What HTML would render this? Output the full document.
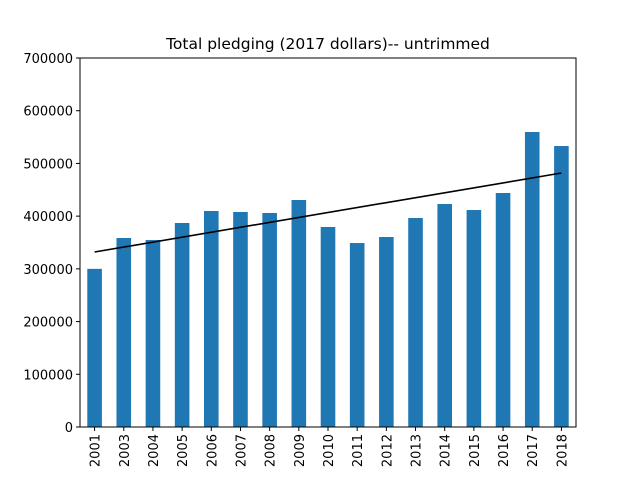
<!DOCTYPE html>
<html><head><meta charset="utf-8"><style>
html,body{margin:0;padding:0;background:#fff;width:640px;height:480px;overflow:hidden;}
svg{display:block;}
svg text{font-family:"DejaVu Sans","Liberation Sans",sans-serif;fill:#000;}
</style></head><body>
<svg id="chart" width="640" height="480" xmlns="http://www.w3.org/2000/svg">
<text x="328" y="49" font-size="15.5" text-anchor="middle">Total pledging (2017 dollars)-- untrimmed</text>
<g id="plot"></g>
</svg>
<script>
const categories=["2001","2003","2004","2005","2006","2007","2008","2009","2010","2011","2012","2013","2014","2015","2016","2017","2018"];
const values=[300000,358500,354700,387000,409800,407900,406000,430600,379400,349000,360400,396500,423000,411600,443900,559600,533000];
const trendValues=[332000,481800];
const yTicks=[0,100000,200000,300000,400000,500000,600000,700000];
const L=80,R=576,T=58,B=427,yMax=700000;
const ns="http://www.w3.org/2000/svg";
const g=document.getElementById('plot');
const step=(R-L)/categories.length;
const xC=i=>L+step*(i+0.5);
const y=v=>B-(v/yMax)*(B-T);
function mk(t,a){const e=document.createElementNS(ns,t);for(const k in a)e.setAttribute(k,a[k]);g.appendChild(e);return e;}
values.forEach((v,i)=>{
 const r=mk('rect',{x:xC(i)-step*0.25,y:y(v),width:step*0.5,height:B-y(v),fill:'#1f77b4'});
 
 
});
const tl=mk('line',{x1:xC(0),y1:y(trendValues[0]),x2:xC(categories.length-1),y2:y(trendValues[1]),stroke:'#000','stroke-width':1.6});


const fr=mk('rect',{x:L,y:T,width:R-L,height:B-T,fill:'none',stroke:'#000','stroke-width':1});


yTicks.forEach(v=>{
 mk('line',{x1:L-4,x2:L,y1:y(v),y2:y(v),stroke:'#000'});
 const t=mk('text',{x:L-7,y:y(v)+5,'font-size':13,'text-anchor':'end'});
 t.textContent=v;
 
 
});
categories.forEach((c,i)=>{
 mk('line',{x1:xC(i),x2:xC(i),y1:B,y2:B+4,stroke:'#000'});
 const t=mk('text',{x:0,y:0,'font-size':13,'text-anchor':'end',transform:`translate(${xC(i)+5},${B+7}) rotate(-90)`});
 t.textContent=c;
 
 
});
const xl=mk('text',{x:328,y:489,'font-size':13,'text-anchor':'middle'});
xl.textContent='year';


</script>
</body></html>
